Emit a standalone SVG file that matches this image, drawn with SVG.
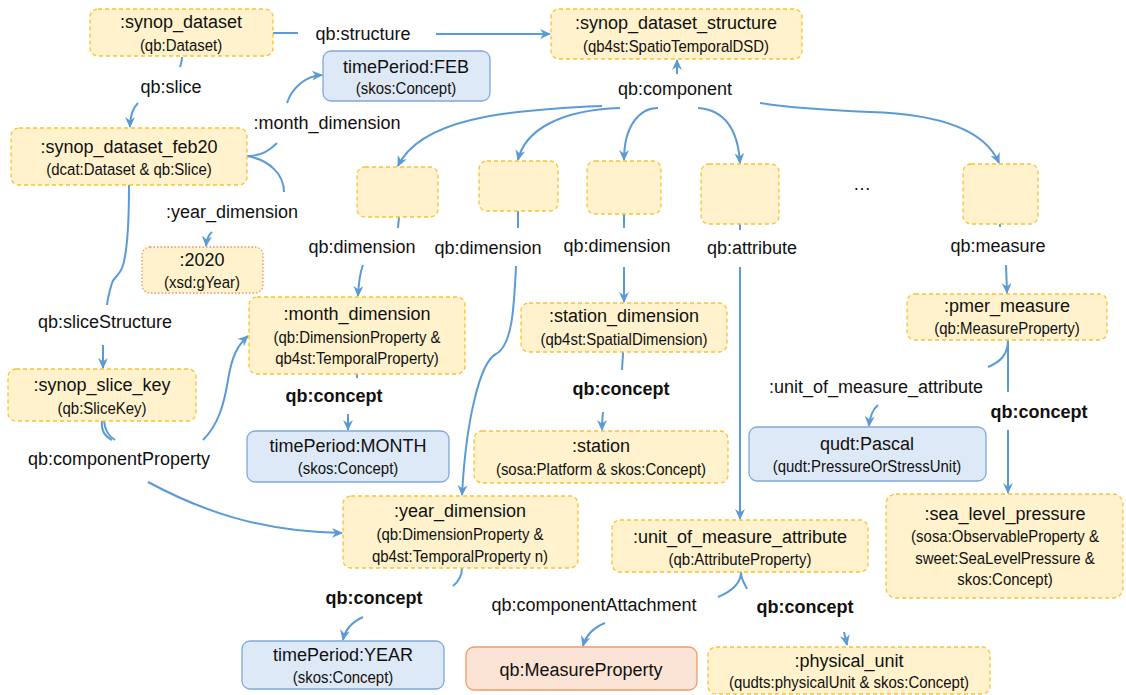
<svg xmlns="http://www.w3.org/2000/svg" width="1126" height="695" viewBox="0 0 1126 695">
<style>
.y{fill:#fff2cc;stroke:#f8c231;stroke-width:1.3;stroke-dasharray:4 3}
.b{fill:#dee9f7;stroke:#7fa8db;stroke-width:1.3}
.o{fill:#fff2cc;stroke:#f0915a;stroke-width:1.3;stroke-dasharray:1.5 2}
.p{fill:#fbe4d6;stroke:#ef9b6c;stroke-width:1.3}
.e{fill:none;stroke:#5b9bd5;stroke-width:2}
.a{marker-end:url(#arr)}
text{font-family:"Liberation Sans",Arial,sans-serif;font-size:18px;text-anchor:middle;fill:#111}
.s{font-size:17px}
.bd{font-weight:bold}
</style>
<defs>
<marker id="arr" viewBox="0 0 10 10" refX="9" refY="5" markerWidth="11" markerHeight="11" markerUnits="userSpaceOnUse" orient="auto">
<path d="M0,0.5 L10,5 L0,9.5 L3,5 Z" fill="#5b9bd5"/>
</marker>
</defs>

<g id="connectors">
<!-- qb:structure -->
<path class="e" d="M273,33 L298,33"/>
<path class="e a" d="M436,34 L550,34"/>
<!-- qb:slice -->
<path class="e" d="M182,57 C182,62 181,64 180,67"/>
<path class="e a" d="M138,103 Q130,111 130,127"/>
<!-- :month_dimension -->
<path class="e" d="M247,156 C262,156 270,150 277,143"/>
<path class="e a" d="M287,103 C292,88 305,76 322,75"/>
<!-- :year_dimension -->
<path class="e" d="M247,156 C270,160 284,175 284,192"/>
<path class="e a" d="M212,232 Q207,236 206,246"/>
<!-- qb:sliceStructure -->
<path class="e" d="M129,185 C129,220 127,255 122,268 C119,276 113,278 112,283 C110,290 108,296 107,305"/>
<path class="e a" d="M103,345 L103,368"/>
<!-- qb:componentProperty -->
<path class="e" d="M102,421 C101,430 104,436 112,440"/>
<path class="e" d="M104,421 C105,430 108,436 115,440"/>
<path class="e a" d="M203,440 C218,425 224,405 228,380 C232,355 238,345 248,336"/>
<path class="e a" d="M148,482 C200,510 260,532 342,533"/>
<!-- qb:component -->
<path class="e a" d="M677,74 L677,60"/>
<path class="e a" d="M602,106 C500,110 420,120 398,166"/>
<path class="e a" d="M620,108 C560,110 525,130 518,160"/>
<path class="e a" d="M658,108 C640,108 624,125 624,160"/>
<path class="e a" d="M698,108 C725,110 738,130 740,163"/>
<path class="e a" d="M760,103 C790,108 820,110 870,112 C940,114 985,130 999,163"/>
<!-- qb:dimension 1 -->
<path class="e" d="M399,217 L398,228"/>
<path class="e a" d="M363,265 Q359,275 358,296"/>
<!-- qb:dimension 2 -->
<path class="e" d="M518,211 L518,228"/>
<path class="e a" d="M516,266 C514,310 512,345 496,354 C480,362 466,420 462,495"/>
<!-- qb:dimension 3 -->
<path class="e" d="M624,214 L624,228"/>
<path class="e a" d="M624,267 L624,302"/>
<!-- qb:attribute -->
<path class="e" d="M740,224 L740,230"/>
<path class="e a" d="M740,267 L740,519"/>
<!-- qb:measure -->
<path class="e" d="M1000,224 L1000,227"/>
<path class="e a" d="M1006,265 L1007,293"/>
<!-- pmer -> unit_of_measure_attribute -> Pascal -->
<path class="e" d="M1008,340 C1008,355 1000,362 988,367"/>
<path class="e a" d="M878,405 Q870,412 869,426"/>
<!-- pmer -> qb:concept -> sea_level_pressure -->
<path class="e" d="M1008,340 L1008,392"/>
<path class="e a" d="M1008,430 L1008,493"/>
<!-- month -> qb:concept -> MONTH -->
<path class="e" d="M357,374 L357,378"/>
<path class="e a" d="M348,414 L348,430"/>
<!-- station_dimension -> qb:concept -> station -->
<path class="e" d="M623,352 C623,360 622,365 622,370"/>
<path class="e a" d="M603,412 Q602,420 602,430"/>
<!-- year_dimension -> qb:concept -> YEAR -->
<path class="e" d="M462,568 C462,576 458,582 453,586"/>
<path class="e a" d="M363,617 C352,622 345,630 343,640"/>
<!-- uoma -> componentAttachment -> MeasureProperty -->
<path class="e" d="M741,572 C741,585 730,592 718,597"/>
<path class="e a" d="M605,623 C595,627 586,635 583,646"/>
<!-- uoma -> qb:concept -> physical_unit -->
<path class="e" d="M741,572 C741,580 745,584 747,589"/>
<path class="e a" d="M844,632 L847,645"/>
</g>

<g id="edge-labels">
<text x="363" y="40">qb:structure</text>
<text x="171" y="93">qb:slice</text>
<text x="327" y="129">:month_dimension</text>
<text x="232" y="218">:year_dimension</text>
<text x="675" y="95">qb:component</text>
<text x="105" y="328">qb:sliceStructure</text>
<text x="119" y="465">qb:componentProperty</text>
<text x="362" y="253">qb:dimension</text>
<text x="488" y="254">qb:dimension</text>
<text x="617" y="252">qb:dimension</text>
<text x="752" y="254">qb:attribute</text>
<text x="998" y="252">qb:measure</text>
<text x="862" y="190">…</text>
<text class="bd" x="334" y="402">qb:concept</text>
<text class="bd" x="621" y="395">qb:concept</text>
<text x="876" y="393">:unit_of_measure_attribute</text>
<text class="bd" x="1039" y="418">qb:concept</text>
<text class="bd" x="374" y="604">qb:concept</text>
<text x="594" y="611">qb:componentAttachment</text>
<text class="bd" x="805" y="613">qb:concept</text>
</g>

<g id="synop_dataset">
<rect class="y" x="90" y="9" width="183" height="47" rx="8"/>
<text x="181" y="28">:synop_dataset</text>
<text class="s" transform="translate(181,51) scale(0.88,1)">(qb:Dataset)</text>
</g>
<g id="synop_dataset_structure">
<rect class="y" x="551" y="9" width="251" height="50" rx="8"/>
<text x="676" y="29">:synop_dataset_structure</text>
<text class="s" transform="translate(676,52) scale(0.88,1)">(qb4st:SpatioTemporalDSD)</text>
</g>
<g id="timePeriod_FEB">
<rect class="b" x="323" y="51" width="167" height="50" rx="8"/>
<text x="406" y="73">timePeriod:FEB</text>
<text class="s" transform="translate(406,94) scale(0.88,1)">(skos:Concept)</text>
</g>
<g id="synop_dataset_feb20">
<rect class="y" x="11" y="128" width="236" height="57" rx="8"/>
<text x="129" y="153">:synop_dataset_feb20</text>
<text class="s" transform="translate(129,175) scale(0.88,1)">(dcat:Dataset &amp; qb:Slice)</text>
</g>
<g id="y2020">
<rect class="o" x="142" y="247" width="121" height="46" rx="8"/>
<text x="202" y="266">:2020</text>
<text class="s" transform="translate(202,288) scale(0.88,1)">(xsd:gYear)</text>
</g>
<g id="month_dimension">
<rect class="y" x="249" y="297" width="216" height="77" rx="8"/>
<text x="357" y="320">:month_dimension</text>
<text class="s" transform="translate(357,343) scale(0.88,1)">(qb:DimensionProperty &amp;</text>
<text class="s" transform="translate(357,364) scale(0.88,1)">qb4st:TemporalProperty)</text>
</g>
<g id="synop_slice_key">
<rect class="y" x="8" y="369" width="188" height="52" rx="8"/>
<text x="102" y="391">:synop_slice_key</text>
<text class="s" transform="translate(102,414) scale(0.88,1)">(qb:SliceKey)</text>
</g>
<g id="timePeriod_MONTH">
<rect class="b" x="247" y="431" width="202" height="51" rx="8"/>
<text x="348" y="452">timePeriod:MONTH</text>
<text class="s" transform="translate(348,474) scale(0.88,1)">(skos:Concept)</text>
</g>
<g id="station_dimension">
<rect class="y" x="521" y="303" width="206" height="49" rx="8"/>
<text x="624" y="322">:station_dimension</text>
<text class="s" transform="translate(624,345) scale(0.88,1)">(qb4st:SpatialDimension)</text>
</g>
<g id="station">
<rect class="y" x="474" y="431" width="254" height="52" rx="8"/>
<text x="601" y="452">:station</text>
<text class="s" transform="translate(601,475) scale(0.88,1)">(sosa:Platform &amp; skos:Concept)</text>
</g>
<g id="qudt_Pascal">
<rect class="b" x="749" y="427" width="237" height="54" rx="8"/>
<text x="867" y="450">qudt:Pascal</text>
<text class="s" transform="translate(867,472) scale(0.88,1)">(qudt:PressureOrStressUnit)</text>
</g>
<g id="sea_level_pressure">
<rect class="y" x="886" y="494" width="237" height="104" rx="10"/>
<text x="1005" y="520">:sea_level_pressure</text>
<text class="s" transform="translate(1005,542) scale(0.88,1)">(sosa:ObservableProperty &amp;</text>
<text class="s" transform="translate(1005,564) scale(0.88,1)">sweet:SeaLevelPressure &amp;</text>
<text class="s" transform="translate(1005,585) scale(0.88,1)">skos:Concept)</text>
</g>
<g id="pmer_measure">
<rect class="y" x="907" y="294" width="200" height="46" rx="8"/>
<text x="1007" y="312">:pmer_measure</text>
<text class="s" transform="translate(1007,334) scale(0.88,1)">(qb:MeasureProperty)</text>
</g>
<g id="year_dimension">
<rect class="y" x="343" y="496" width="235" height="72" rx="8"/>
<text x="460" y="517">:year_dimension</text>
<text class="s" transform="translate(460,540) scale(0.88,1)">(qb:DimensionProperty &amp;</text>
<text class="s" transform="translate(460,562) scale(0.88,1)">qb4st:TemporalProperty n)</text>
</g>
<g id="unit_of_measure_attribute">
<rect class="y" x="612" y="520" width="256" height="52" rx="8"/>
<text x="740" y="543">:unit_of_measure_attribute</text>
<text class="s" transform="translate(740,565) scale(0.88,1)">(qb:AttributeProperty)</text>
</g>
<g id="timePeriod_YEAR">
<rect class="b" x="242" y="641" width="202" height="48" rx="8"/>
<text x="343" y="661">timePeriod:YEAR</text>
<text class="s" transform="translate(343,683) scale(0.88,1)">(skos:Concept)</text>
</g>
<g id="qb_MeasureProperty">
<rect class="p" x="466" y="647" width="231" height="43" rx="8"/>
<text x="581" y="676">qb:MeasureProperty</text>
</g>
<g id="physical_unit">
<rect class="y" x="708" y="647" width="282" height="47" rx="8"/>
<text x="849" y="667">:physical_unit</text>
<text class="s" transform="translate(849,688) scale(0.88,1)">(qudts:physicalUnit &amp; skos:Concept)</text>
</g>
<g id="component_dim1"><rect class="y" x="357" y="167" width="81" height="50" rx="8"/></g>
<g id="component_dim2"><rect class="y" x="479" y="161" width="79" height="50" rx="8"/></g>
<g id="component_dim3"><rect class="y" x="587" y="161" width="74" height="53" rx="8"/></g>
<g id="component_attr"><rect class="y" x="701" y="164" width="78" height="60" rx="8"/></g>
<g id="component_measure"><rect class="y" x="963" y="164" width="75" height="60" rx="8"/></g>
</svg>
